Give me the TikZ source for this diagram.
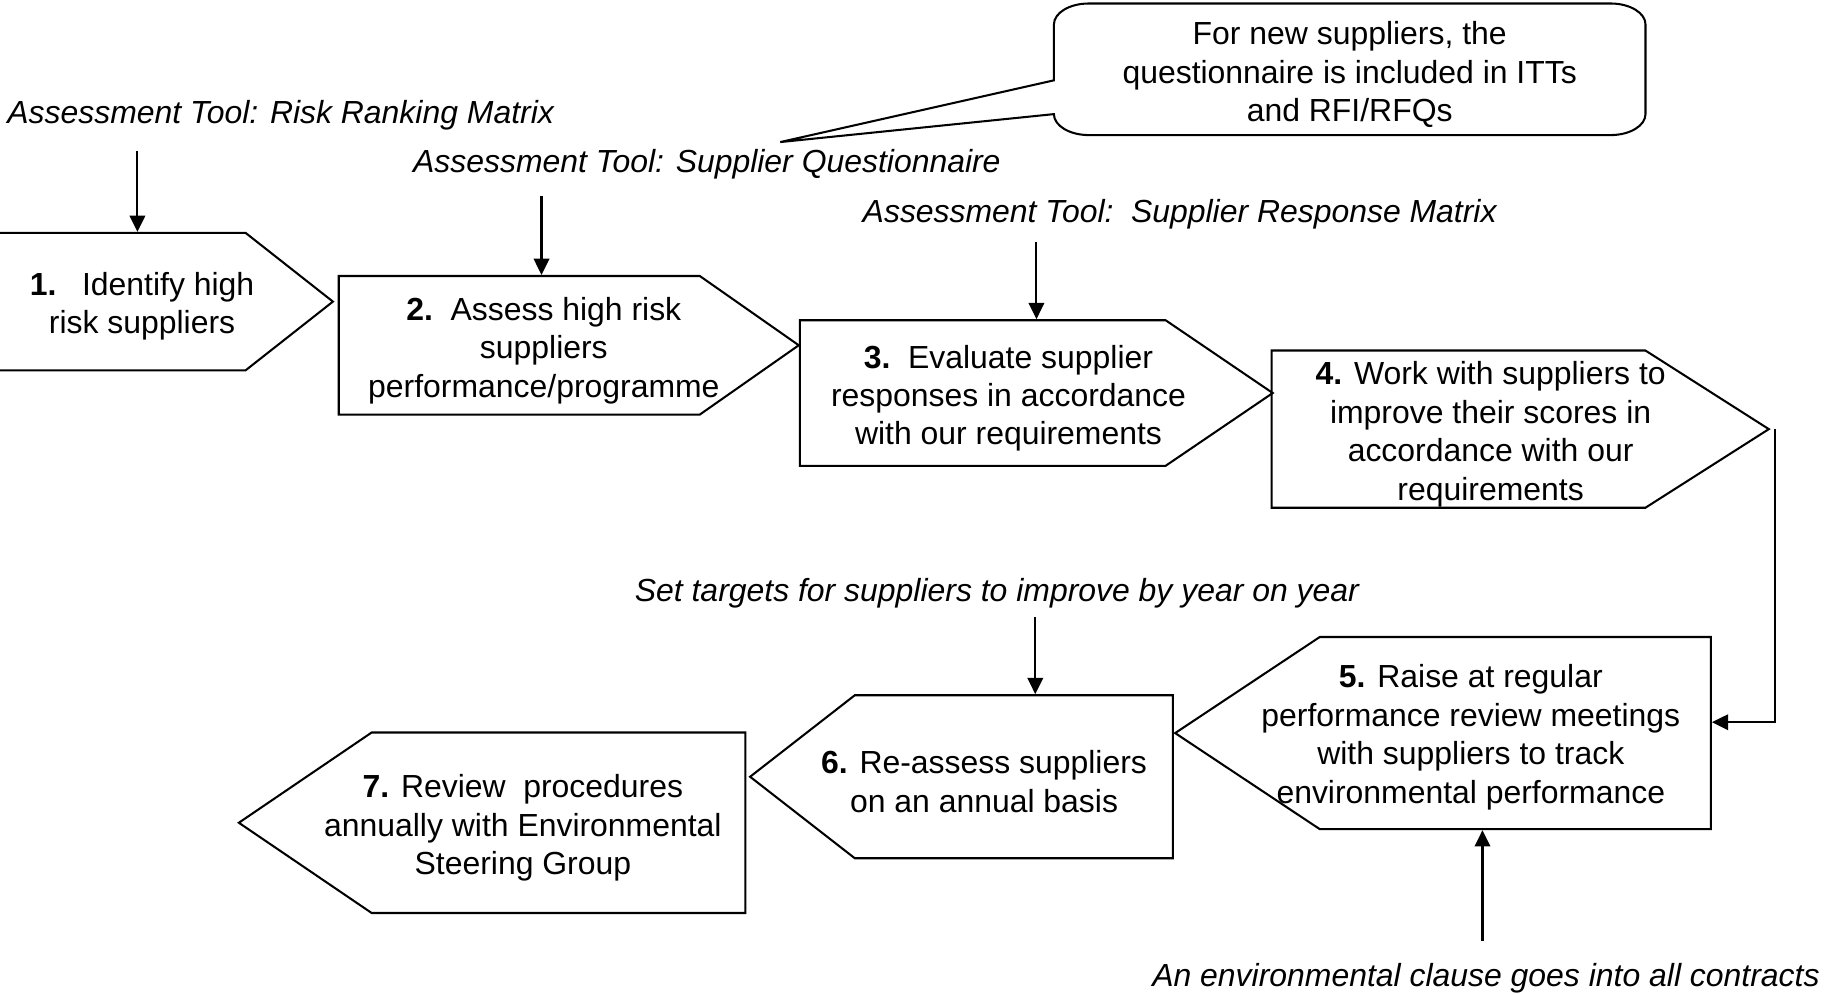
\documentclass[tikz,border=0pt]{standalone}
\usepackage{fontspec}
\setmainfont{Liberation Sans}
\usepackage{tikz}
\usetikzlibrary{shapes.symbols,arrows.meta}

\tikzset{
    stepbox/.style={draw, signal, line width=0.75pt, inner sep=0pt},
    steptext/.style={align=center, font=\fontsize{11.7}{14.1}\selectfont},
    tool/.style={font=\fontsize{11.7}{14.1}\selectfont\itshape},
    flow/.style={line width=0.75pt, -{Triangle[length=2.1mm, width=2mm]}},
    bubble/.style={line width=0.75pt},
    corner/.style={x radius=4.5mm, y radius=2.7mm}
}

\begin{document}
\begin{tikzpicture}[x=0.15mm, y=-0.15mm]
            \useasboundingbox (0,0) rectangle (1568,854);

            \node[stepbox, signal to=east, anchor=west, minimum width=44.25mm, minimum height=17.7mm, signal pointer angle=76.4] (b1) at (-10,259) {};
            \node[stepbox, signal to=east, anchor=west, minimum width=59.25mm, minimum height=17.85mm, signal pointer angle=70] (b2) at (290,296.5) {};
            \node[stepbox, signal to=east, anchor=west, minimum width=60.9mm, minimum height=18.75mm, signal pointer angle=68.4] (b3) at (686,337.5) {};
            \node[stepbox, signal to=east, anchor=west, minimum width=64.05mm, minimum height=20.25mm, signal pointer angle=65] (b4) at (1091,368.5) {};
            \node[stepbox, signal to=west, anchor=east, minimum width=69mm, minimum height=24.75mm, signal pointer angle=67.2] (b5) at (1470,629.5) {};
            \node[stepbox, signal to=west, anchor=east, minimum width=54.45mm, minimum height=21mm, signal pointer angle=75.8] (b6) at (1008,667) {};
            \node[stepbox, signal to=west, anchor=east, minimum width=65.25mm, minimum height=23.25mm, signal pointer angle=68.4] (b7) at (641,706.5) {};

            \node[steptext] (t1) at (122,263) {\textbf{1.}\hspace{0.8em}Identify high\\risk suppliers};
            \node[steptext] (t2) at (467,301) {\textbf{2.}\hspace{0.55em}Assess high risk\\suppliers\\performance/programme};
            \node[steptext] (t3) at (866,342) {\textbf{3.}\hspace{0.55em}Evaluate supplier\\responses in accordance\\with our requirements};
            \node[steptext] (t4) at (1280,373) {\textbf{4.} Work with suppliers to\\improve their scores in\\accordance with our\\requirements};
            \node[steptext] (t5) at (1263,633) {\textbf{5.} Raise at regular\\performance review meetings\\with suppliers to track\\environmental performance};
            \node[steptext] (t6) at (845,671) {\textbf{6.} Re-assess suppliers\\on an annual basis};
            \node[steptext] (t7) at (449,711) {\textbf{7.} Review\hspace{0.55em}procedures\\annually with Environmental\\Steering Group};

            \node[tool] (l1) at (241,99) {Assessment Tool: Risk Ranking Matrix};
            \node[tool] (l2) at (607,141) {Assessment Tool: Supplier Questionnaire};
            \node[tool] (l3) at (1013,184) {Assessment Tool:\hspace{0.55em}Supplier Response Matrix};
            \node[tool] (l4) at (856,509) {Set targets for suppliers to improve by year on year};
            \node[tool] (l5) at (1276,840) {An environmental clause goes into all contracts};

            \node[steptext] (c1) at (1159,64) {For new suppliers, the\\questionnaire is included in ITTs\\and RFI/RFQs};
            \coordinate (ctip) at (670,122);
            \draw[bubble] (935,3) -- (1383,3) arc[start angle=90, end angle=0, corner]
                -- (1413,98) arc[start angle=0, end angle=-90, corner]
                -- (935,116) arc[start angle=270, end angle=180, corner]
                -- (ctip) -- (905,69)
                -- (905,21) arc[start angle=180, end angle=90, corner] -- cycle;

            \coordinate (a1) at (118,130);
            \coordinate (a2) at (465,168);
            \coordinate (a3) at (890,208);
            \coordinate (a4) at (889,530);
            \coordinate (a5) at (1273,808);

            \draw[flow] (a1) -- (a1 |- b1.north);
            \draw[flow] (a2) -- (a2 |- b2.north);
            \draw[flow] (a3) -- (a3 |- b3.north);
            \draw[flow] (a4) -- (a4 |- b6.north);
            \draw[flow] (a5) -- (a5 |- b5.south);
            \draw[flow] ([xshift=0.6mm]b4.east) |- ([yshift=1.4mm]b5.east);
\end{tikzpicture}
\end{document}
